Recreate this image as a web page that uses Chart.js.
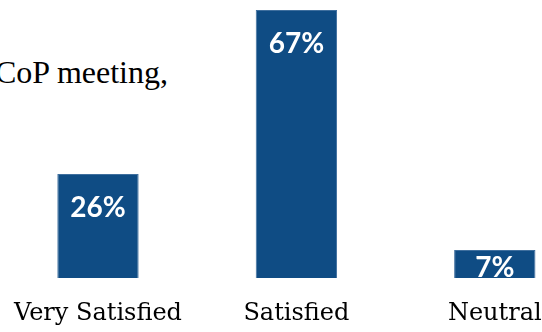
<!DOCTYPE html>
<html>
<head>
<meta charset="utf-8">
<script src="https://cdn.jsdelivr.net/npm/chart.js@4.4.1/dist/chart.umd.min.js"></script>
<style>
  html, body { margin: 0; padding: 0; background: #fff; overflow: hidden; width: 542px; height: 332px; }
  #wrap { position: relative; width: 542px; height: 332px; overflow: hidden; }
  #note {
    position: absolute; right: 374px; top: 54px;
    font-family: 'Liberation Serif', 'Times New Roman', serif; font-size: 32px;
    color: #000; white-space: nowrap; line-height: 36px;
  }
  canvas { position: absolute; left: -7px; top: 0; }
</style>
</head>
<body>
<div id="wrap">
  <div id="note">CoP meeting,</div>
  <canvas id="satChart" width="601" height="332"></canvas>
</div>
<script>
document.addEventListener('DOMContentLoaded', function () {
    // data
    const categories = ['Very Satisfied', 'Satisfied', 'Neutral'];
    const percents = [26, 67, 7];

    const barColor = '#0F4C84';

    // white % labels inside the top of each bar
    const insideLabels = {
        id: 'insideLabels',
        afterDatasetsDraw(chart) {
            const ctx = chart.ctx;
            const meta = chart.getDatasetMeta(0);
            ctx.save();
            ctx.fillStyle = '#ffffff';
            ctx.font = "bold 28px Lato, 'Open Sans', sans-serif";
            ctx.textAlign = 'center';
            ctx.textBaseline = 'top';
            meta.data.forEach(function (bar, i) {
                const h = bar.base - bar.y;
                const pad = h > 60 ? 20 : 4;
                ctx.save();
                ctx.beginPath();
                ctx.rect(bar.x - bar.width / 2, bar.y, bar.width, h);
                ctx.clip();
                ctx.fillText(percents[i] + '%', bar.x, bar.y + pad);
                ctx.restore();
            });
            ctx.restore();
        }
    };

    const ctx = document.getElementById('satChart').getContext('2d');
    new Chart(ctx, {
        type: 'bar',
        data: {
            labels: categories,
            datasets: [{
                data: percents,
                backgroundColor: barColor,
                borderColor: '#3f6f9e',
                borderWidth: 1,
                barPercentage: 0.41,
                categoryPercentage: 1.0
            }]
        },
        options: {
            responsive: false,
            animation: false,
            layout: { padding: { top: 0, bottom: 7, left: 0, right: 0 } },
            scales: {
                x: {
                    grid: { display: false, drawTicks: false },
                    border: { display: false },
                    ticks: {
                        color: '#000',
                        padding: 21,
                        maxRotation: 0,
                        font: { family: "'DejaVu Serif', serif", size: 24 }
                    },
                    afterFit: function (scale) { scale.height = 47; }
                },
                y: {
                    display: false,
                    min: 0,
                    max: 69.5
                }
            },
            plugins: {
                legend: { display: false },
                tooltip: { enabled: false }
            }
        },
        plugins: [insideLabels]
    });
});
</script>
</body>
</html>
